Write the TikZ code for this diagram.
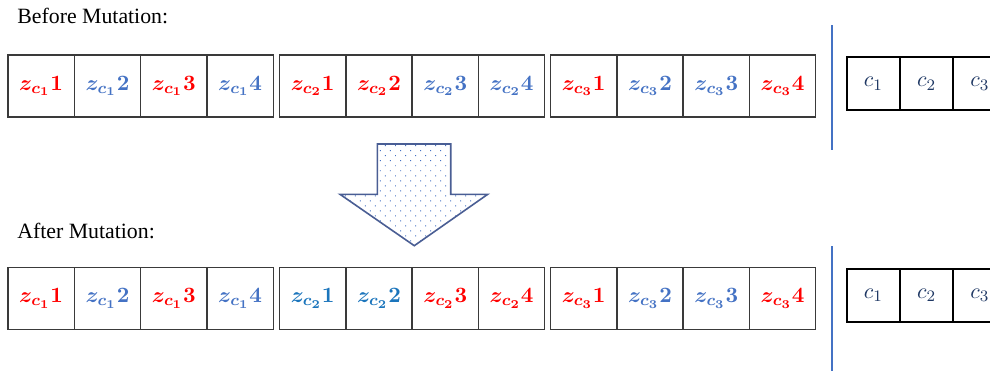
\documentclass[tikz,border=0pt]{standalone}
\usepackage{fontspec}
\setmainfont{Liberation Serif}
\usepackage{bm}
\DeclareMathSizes{10.5}{10.5}{7.6}{6.2}
\DeclareMathSizes{11}{11}{8}{6.5}
\usetikzlibrary{patterns.meta}
\definecolor{zred}{HTML}{FF0000}
\definecolor{zblue}{HTML}{4472C4}
\definecolor{zbluetwo}{HTML}{1B75BC}
\definecolor{cnavy}{HTML}{1F3864}
\definecolor{arrowline}{HTML}{4A5E94}
\definecolor{gridline}{HTML}{3A3A3A}
\begin{document}
\begin{tikzpicture}[x=0.5pt,y=-0.5pt,
  cell/.style={draw=gridline, line width=0.7pt, minimum width=33.15pt, minimum height=31pt, inner sep=0pt, font=\fontsize{10.5}{12}\selectfont},
  rz/.style={cell, text=zred},
  bz/.style={cell, text=zblue},
  dz/.style={cell, text=zbluetwo},
  cbox/.style={draw=black, line width=1pt, minimum width=26.65pt, minimum height=26.4pt, inner sep=0pt, text=cnavy, font=\fontsize{11}{13}\selectfont},
  titletext/.style={anchor=base west, inner sep=0pt, font=\fontsize{10.9}{13}\selectfont},
  divider/.style={draw=zblue, line width=1pt},
  bigarrow/.style={draw=arrowline, line width=0.8pt}]
\clip (0,0) rectangle (990,371);
\fill[white] (0,0) rectangle (990,371);
% titles
\node[titletext] (before) at (17,23) {Before Mutation:};
\node[titletext] (after) at (17,238) {After Mutation:};
% top row
\node[rz] (t11) at (41.15,86) {$\bm{z_{c_{1}}1}$};
\node[bz] (t12) at (107.45,86) {$\bm{z_{c_{1}}2}$};
\node[rz] (t13) at (173.75,86) {$\bm{z_{c_{1}}3}$};
\node[bz] (t14) at (240.05,86) {$\bm{z_{c_{1}}4}$};
\node[rz] (t21) at (312.65,86) {$\bm{z_{c_{2}}1}$};
\node[rz] (t22) at (378.95,86) {$\bm{z_{c_{2}}2}$};
\node[bz] (t23) at (445.25,86) {$\bm{z_{c_{2}}3}$};
\node[bz] (t24) at (511.55,86) {$\bm{z_{c_{2}}4}$};
\node[rz] (t31) at (583.65,86) {$\bm{z_{c_{3}}1}$};
\node[bz] (t32) at (649.95,86) {$\bm{z_{c_{3}}2}$};
\node[bz] (t33) at (716.25,86) {$\bm{z_{c_{3}}3}$};
\node[rz] (t34) at (782.55,86) {$\bm{z_{c_{3}}4}$};
% bottom row
\node[rz] (b11) at (41.15,298.3) {$\bm{z_{c_{1}}1}$};
\node[bz] (b12) at (107.45,298.3) {$\bm{z_{c_{1}}2}$};
\node[rz] (b13) at (173.75,298.3) {$\bm{z_{c_{1}}3}$};
\node[bz] (b14) at (240.05,298.3) {$\bm{z_{c_{1}}4}$};
\node[dz] (b21) at (312.65,298.3) {$\bm{z_{c_{2}}1}$};
\node[dz] (b22) at (378.95,298.3) {$\bm{z_{c_{2}}2}$};
\node[rz] (b23) at (445.25,298.3) {$\bm{z_{c_{2}}3}$};
\node[rz] (b24) at (511.55,298.3) {$\bm{z_{c_{2}}4}$};
\node[rz] (b31) at (583.65,298.3) {$\bm{z_{c_{3}}1}$};
\node[bz] (b32) at (649.95,298.3) {$\bm{z_{c_{3}}2}$};
\node[bz] (b33) at (716.25,298.3) {$\bm{z_{c_{3}}3}$};
\node[rz] (b34) at (782.55,298.3) {$\bm{z_{c_{3}}4}$};
% c boxes
\node[cbox] (tc1) at (873.35,83.7) {$c_{1}$};
\node[cbox] (tc2) at (926.65,83.7) {$c_{2}$};
\node[cbox] (tc3) at (979.95,83.7) {$c_{3}$};
\node[cbox] (bc1) at (873.35,295.5) {$c_{1}$};
\node[cbox] (bc2) at (926.65,295.5) {$c_{2}$};
\node[cbox] (bc3) at (979.95,295.5) {$c_{3}$};
% dividers
\coordinate (d1a) at (832.3,25);
\coordinate (d1b) at (832.3,150);
\coordinate (d2a) at (832.3,246);
\coordinate (d2b) at (832.3,371);
\draw[divider] (d1a) -- (d1b);
\draw[divider] (d2a) -- (d2b);
% arrow
\fill[white] (377.3,144) -- (450.7,144) -- (450.7,194.3) -- (487.7,194.3) -- (414.3,245.7) -- (340,194.3) -- (377.3,194.3) -- cycle;
\path[pattern={Dots[distance=3.54pt,angle=45,radius=0.35pt]}, pattern color=zblue] (377.3,144) -- (450.7,144) -- (450.7,194.3) -- (487.7,194.3) -- (414.3,245.7) -- (340,194.3) -- (377.3,194.3) -- cycle;
\draw[bigarrow] (377.3,144) -- (450.7,144) -- (450.7,194.3) -- (487.7,194.3) -- (414.3,245.7) -- (340,194.3) -- (377.3,194.3) -- cycle;
\end{tikzpicture}
\end{document}
